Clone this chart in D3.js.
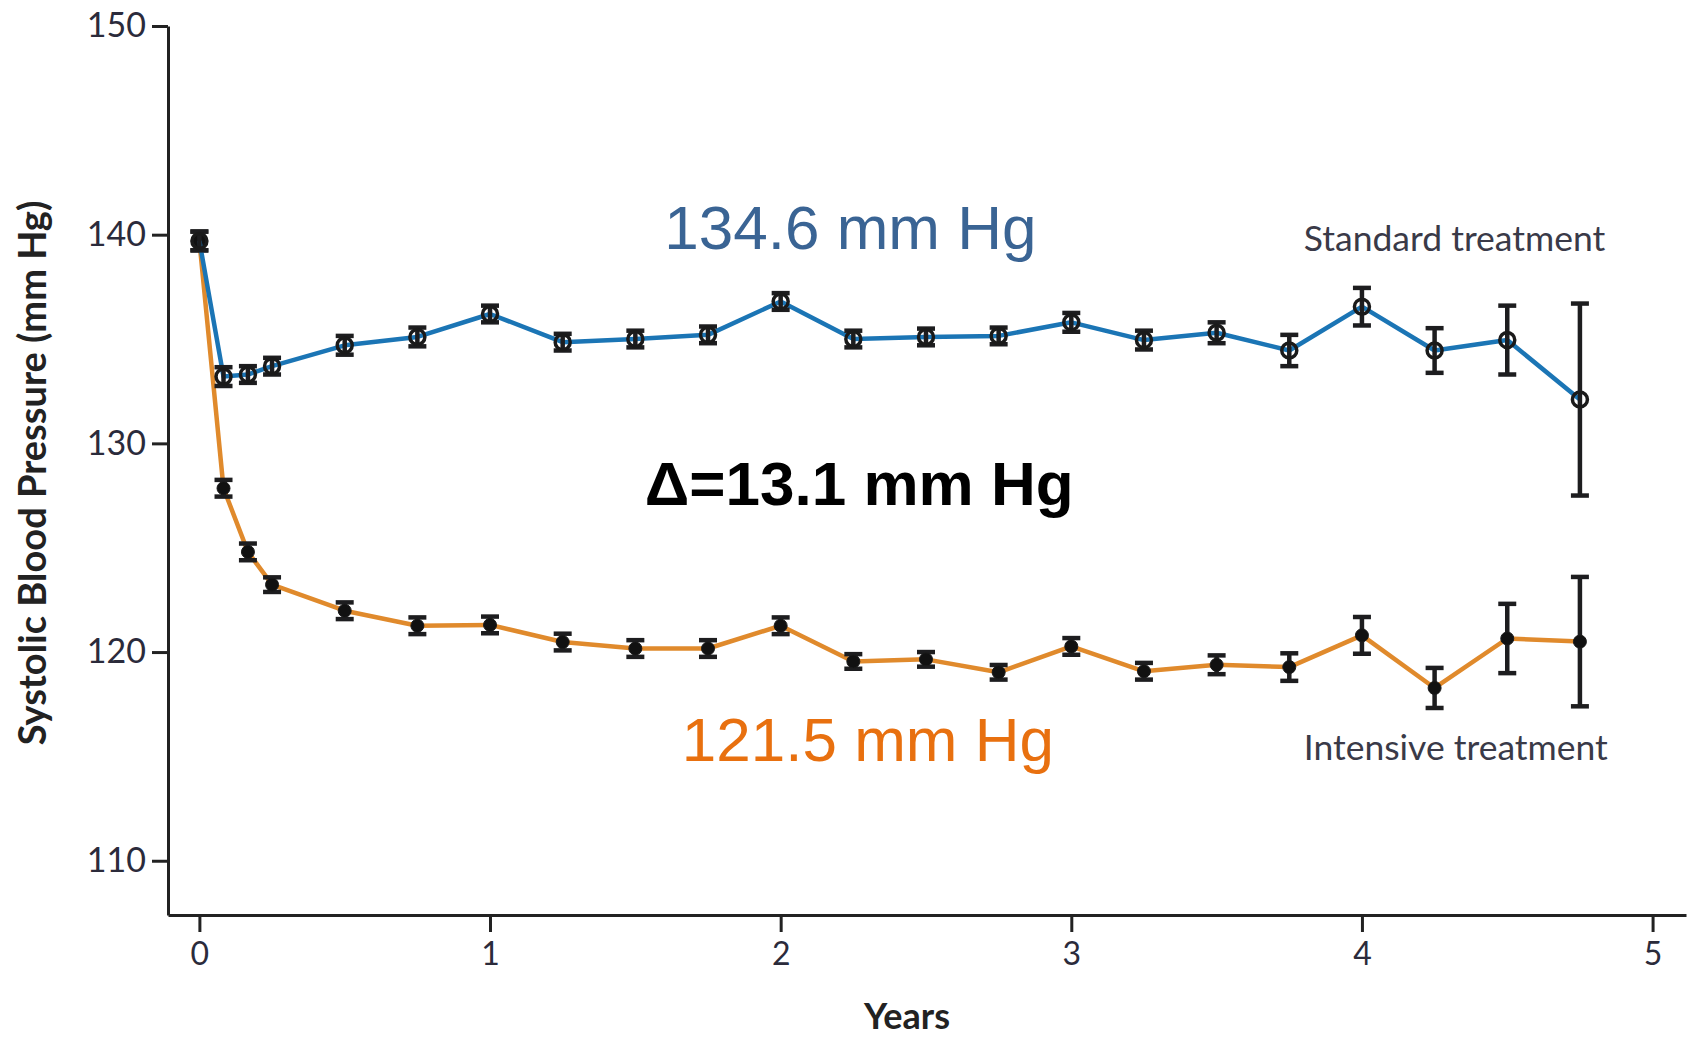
<!DOCTYPE html>
<html lang="en">
<head>
  <meta charset="UTF-8">
  <title></title>
  <style>
    body { margin: 0; background: #fff; }
  </style>
</head>
<body>
  <script src="https://d3js.org/d3.v7.min.js"></script>
  <script>
    const [width, height] = [1698, 1040];

    // visit times (years)
    const years = [0, 0.083, 0.167, 0.25, 0.5, 0.75, 1, 1.25, 1.5, 1.75, 2, 2.25, 2.5, 2.75, 3, 3.25, 3.5, 3.75, 4, 4.25, 4.5, 4.75];

    // mean systolic BP and half-width of the error bar
    const standard = [139.7, 133.2, 133.3, 133.7, 134.7, 135.1, 136.2, 134.85, 135.0, 135.2, 136.8, 135.0, 135.1, 135.15, 135.8, 134.95, 135.3, 134.45, 136.55, 134.45, 134.95, 132.1];
    const standardErr = [0.45, 0.45, 0.4, 0.4, 0.45, 0.45, 0.4, 0.4, 0.4, 0.4, 0.4, 0.4, 0.4, 0.4, 0.45, 0.45, 0.5, 0.75, 0.9, 1.07, 1.65, 4.6];
    const intensive = [139.7, 127.85, 124.8, 123.23, 121.98, 121.26, 121.3, 120.48, 120.17, 120.17, 121.26, 119.55, 119.65, 119.03, 120.27, 119.08, 119.39, 119.28, 120.8, 118.28, 120.65, 120.5];
    const intensiveErr = [0.45, 0.4, 0.4, 0.35, 0.4, 0.4, 0.4, 0.4, 0.4, 0.4, 0.4, 0.35, 0.35, 0.35, 0.4, 0.4, 0.45, 0.66, 0.88, 0.96, 1.66, 3.1];

    const xTicks = [0, 1, 2, 3, 4, 5];
    const yTicks = [110, 120, 130, 140, 150];

    const x = d3.scaleLinear().domain([-0.108, 5.115]).range([168, 1686]);
    const y = d3.scaleLinear().domain([107.4, 150]).range([915, 26]);

    const svg = d3
      .select(document.body)
      .append("svg")
      .attr("xmlns", "http://www.w3.org/2000/svg")
      .attr("width", width)
      .attr("height", height)
      .attr("viewBox", [0, 0, width, height]);

    // axes
    svg.append("g")
      .attr("transform", `translate(${x.range()[0]},0)`)
      .call(d3.axisLeft(y).tickValues(yTicks).tickSize(16).tickSizeOuter(0).tickPadding(6))
      .call(g => g.selectAll("path, line").attr("stroke", "#222").attr("stroke-width", 3))
      .call(g => g.selectAll("text")
        .attr("font-family", "Lato, sans-serif")
        .attr("font-size", 34)
        .attr("fill", "#2b2b3b"));

    svg.append("g")
      .attr("transform", `translate(0,${y.range()[0]})`)
      .call(d3.axisBottom(x).tickValues(xTicks).tickFormat(d3.format("d")).tickSize(17).tickSizeOuter(0).tickPadding(10))
      .call(g => g.selectAll("path, line").attr("stroke", "#222").attr("stroke-width", 3))
      .call(g => g.selectAll("text")
        .attr("font-family", "Lato, sans-serif")
        .attr("font-size", 32)
        .attr("fill", "#2b2b3b"));

    svg.append("text")
      .attr("transform", "translate(46,473) rotate(-90)")
      .attr("text-anchor", "middle")
      .attr("font-family", "Lato, sans-serif")
      .attr("font-weight", "bold")
      .attr("font-size", 38)
      .attr("fill", "#222")
      .text("Systolic Blood Pressure (mm Hg)");

    svg.append("text")
      .attr("x", 907)
      .attr("y", 1029)
      .attr("text-anchor", "middle")
      .attr("font-family", "Lato, sans-serif")
      .attr("font-weight", "bold")
      .attr("font-size", 36)
      .attr("fill", "#222")
      .text("Years");

    const series = [
      { name: "standard", values: standard, err: standardErr, color: "#1b75b5", open: true },
      { name: "intensive", values: intensive, err: intensiveErr, color: "#e08a2c", open: false }
    ];

    const line = d3.line()
      .x(d => x(d.t))
      .y(d => y(d.v));

    // intensive drawn first so the blue line sits on top at the shared start
    for (const s of series.slice().reverse()) {
      const pts = years.map((t, i) => ({ t, v: s.values[i], e: s.err[i] }));
      const g = svg.append("g");
      g.append("path")
        .datum(pts)
        .attr("fill", "none")
        .attr("stroke", s.color)
        .attr("stroke-width", 4.5)
        .attr("stroke-linejoin", "round")
        .attr("d", line);

      const bars = g.append("g")
        .attr("stroke", "#1d1d1f")
        .attr("stroke-width", 4.5)
        .selectAll("g")
        .data(pts)
        .join("g")
        .attr("transform", d => `translate(${x(d.t)},0)`);
      bars.append("line").attr("y1", d => y(d.v + d.e)).attr("y2", d => y(d.v - d.e));
      bars.append("line").attr("x1", -9).attr("x2", 9).attr("y1", d => y(d.v + d.e)).attr("y2", d => y(d.v + d.e));
      bars.append("line").attr("x1", -9).attr("x2", 9).attr("y1", d => y(d.v - d.e)).attr("y2", d => y(d.v - d.e));

      g.append("g")
        .selectAll("circle")
        .data(pts)
        .join("circle")
        .attr("cx", d => x(d.t))
        .attr("cy", d => y(d.v))
        .attr("r", s.open ? 7.5 : 6.5)
        .attr("fill", s.open ? "none" : "#111")
        .attr("stroke", "#1a1a1a")
        .attr("stroke-width", s.open ? 3.5 : 1);
    }

    // series labels
    const seriesLabels = [
      { text: "Standard treatment", t: 3.80, v: 139.2 },
      { text: "Intensive treatment", t: 3.80, v: 114.85 }
    ];
    svg.append("g")
      .selectAll("text")
      .data(seriesLabels)
      .join("text")
      .attr("x", d => x(d.t))
      .attr("y", d => y(d.v))
      .attr("font-family", "Lato, sans-serif")
      .attr("font-size", 35.5)
      .attr("fill", "#3a3a48")
      .text(d => d.text);

    // annotations
    const notes = [
      { text: "134.6 mm Hg", t: 2.24, v: 139.3, color: "#3a6494", weight: "normal" },
      { text: "\u0394=13.1 mm Hg", t: 2.27, v: 127.05, color: "#000", weight: "bold" },
      { text: "121.5 mm Hg", t: 2.30, v: 114.8, color: "#e8700f", weight: "normal" }
    ];
    svg.append("g")
      .selectAll("text")
      .data(notes)
      .join("text")
      .attr("x", d => x(d.t))
      .attr("y", d => y(d.v))
      .attr("text-anchor", "middle")
      .attr("font-family", "Liberation Sans, Arial, sans-serif")
      .attr("font-size", 62)
      .attr("font-weight", d => d.weight)
      .attr("fill", d => d.color)
      .text(d => d.text);
  </script>
</body>
</html>
